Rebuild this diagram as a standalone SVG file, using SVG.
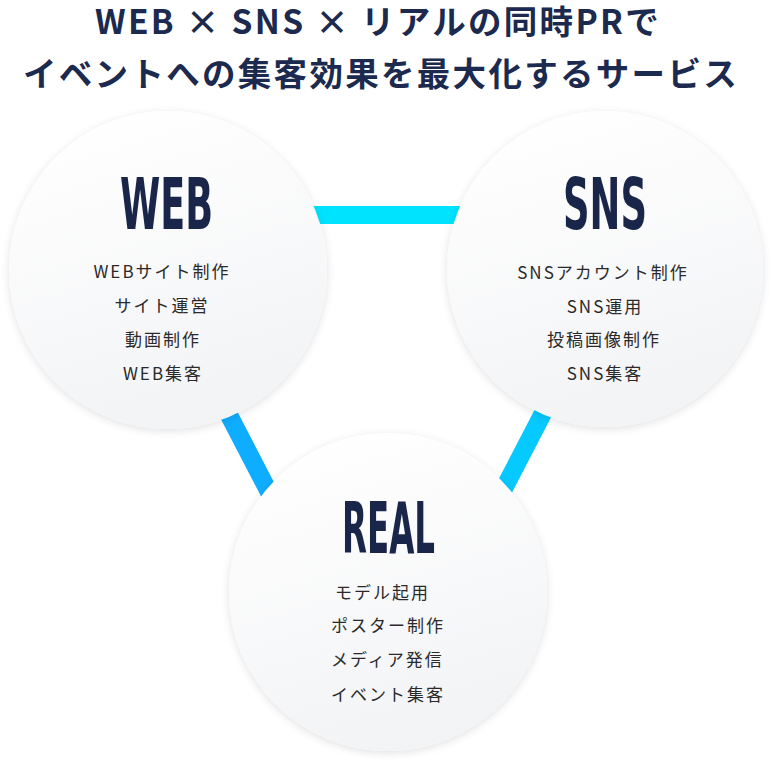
<svg xmlns="http://www.w3.org/2000/svg" width="772" height="764" viewBox="0 0 772 764">
<defs>
<linearGradient id="cg" x1="0.3" y1="0" x2="0.6" y2="1">
<stop offset="0" stop-color="#ffffff"/>
<stop offset="1" stop-color="#f2f3f5"/>
</linearGradient>
<filter id="sh" x="-20%" y="-20%" width="140%" height="140%">
<feDropShadow dx="0" dy="2" stdDeviation="4" flood-color="#000" flood-opacity="0.12"/>
</filter>
<style>
.title{font-family:"Noto Sans CJK JP","Noto Sans",sans-serif;font-weight:700;font-size:33.5px;fill:#1b2a4e;letter-spacing:2.3px;text-anchor:middle}
.head{font-family:"Liberation Sans Narrow","DejaVu Sans Condensed","Liberation Sans",sans-serif;font-weight:700;font-size:71px;fill:#1a2649}
.item{font-family:"Noto Sans CJK JP","Noto Sans",sans-serif;font-size:17px;fill:#2a2a2a;letter-spacing:2px}
.mid{text-anchor:middle}
.circle{fill:url(#cg);filter:url(#sh)}
.bar{stroke-width:18;fill:none;stroke-linecap:butt}
</style>
</defs>
<rect width="772" height="764" fill="#ffffff"/>
<g id="title">
<text class="title" x="378" y="34">WEB × SNS × リアルの同時PRで</text>
<text class="title" x="381" y="86">イベントへの集客効果を最大化するサービス</text>
</g>
<g id="connectors">
<line class="bar" x1="300" y1="215" x2="470" y2="215" stroke="#00e3ff"/>
<line class="bar" x1="190" y1="340" x2="299" y2="550" stroke="#0fadff"/>
<line class="bar" x1="581" y1="340" x2="472" y2="550" stroke="#06c9ff"/>
</g>
<g id="node-web">
<circle class="circle" cx="168" cy="270" r="159"/>
<text class="head" x="120" y="229" textLength="93" lengthAdjust="spacingAndGlyphs">WEB</text>
<text class="item mid" x="162" y="277.5">WEBサイト制作</text>
<text class="item mid" x="162" y="311.5">サイト運営</text>
<text class="item mid" x="163" y="345.5">動画制作</text>
<text class="item mid" x="163" y="379.5">WEB集客</text>
</g>
<g id="node-sns">
<circle class="circle" cx="605" cy="269" r="158"/>
<text class="head" x="563" y="229" textLength="84" lengthAdjust="spacingAndGlyphs">SNS</text>
<text class="item mid" x="603" y="278.5">SNSアカウント制作</text>
<text class="item mid" x="605" y="312.5">SNS運用</text>
<text class="item mid" x="604" y="345.5">投稿画像制作</text>
<text class="item mid" x="605" y="379.5">SNS集客</text>
</g>
<g id="node-real">
<circle class="circle" cx="388" cy="592" r="159"/>
<text class="head" x="342" y="553" textLength="93" lengthAdjust="spacingAndGlyphs">REAL</text>
<text class="item" x="335" y="598.5">モデル起用</text>
<text class="item" x="331" y="631.5">ポスター制作</text>
<text class="item" x="331" y="665.5">メディア発信</text>
<text class="item" x="331" y="700.5">イベント集客</text>
</g>
</svg>
